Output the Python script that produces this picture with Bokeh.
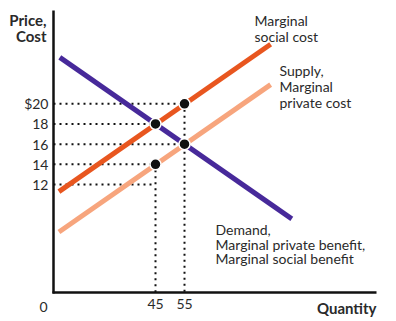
from bokeh.plotting import figure
from bokeh.models import Range1d, FixedTicker, Label
from bokeh.embed import file_html
from bokeh.resources import INLINE

# ---- data ----
quantity_ticks = [45, 55]
price_ticks = [12, 14, 16, 18, 20]
price_labels = {20: "$20", 18: "18", 16: "16", 14: "14", 12: "12"}

demand_q = [12, 92]
demand_p = [24.6, 8.6]
msc_q = [11.7, 84.7]
msc_p = [11.3, 25.9]
supply_q = [11.7, 84.7]
supply_p = [7.3, 21.9]

point_q = [45, 55, 55, 45]
point_p = [18, 20, 16, 14]

guide_h_q = [55, 45, 55, 45, 45]
guide_h_p = [20, 18, 16, 14, 12]
guide_v_q = [45, 55]
guide_v_p = [14, 20]

# ---- layout ----
W, H = 396, 321
AX_L, AX_R, AX_T, AX_B = 53, 376, 10, 292  # axis extents in px
XPX = 2.9    # px per quantity unit
YPX = 10.09  # px per price unit

def xd(px):
    return 45 + (px - 155) / XPX

def yd(py):
    return 20 - (py - 103.3) / YPX

FONT = "Lato"
TXT = "#2a2a2a"

p = figure(width=W, height=H, output_backend="svg", toolbar_location=None,
           x_range=Range1d(xd(0), xd(W)), y_range=Range1d(yd(H), yd(0)),
           min_border=0)
p.outline_line_color = None
p.grid.visible = False
p.background_fill_color = "white"
p.border_fill_color = "white"

x_axis_at = yd(AX_B)
y_axis_at = xd(AX_L)

for ax in (p.xaxis[0], p.yaxis[0]):
    ax.axis_line_width = 2.5
    ax.axis_line_color = "#111111"
    ax.major_tick_line_color = None
    ax.minor_tick_line_color = None
    ax.major_tick_out = 0
    ax.major_tick_in = 0
    ax.minor_tick_out = 0
    ax.minor_tick_in = 0
    ax.major_label_text_font = FONT
    ax.major_label_text_font_size = "14px"
    ax.major_label_text_color = TXT

p.xaxis.fixed_location = x_axis_at
p.xaxis.bounds = (xd(AX_L - 1.25), xd(AX_R))
p.xaxis.ticker = FixedTicker(ticks=quantity_ticks)
p.xaxis.major_label_standoff = 6

p.yaxis.fixed_location = y_axis_at
p.yaxis.bounds = (yd(AX_B + 1.25), yd(AX_T))
p.yaxis.ticker = FixedTicker(ticks=price_ticks)
p.yaxis.major_label_overrides = {k: v for k, v in price_labels.items()}
p.yaxis.major_label_standoff = 5

# dotted guides
p.segment(x0=[y_axis_at] * len(guide_h_q), y0=guide_h_p, x1=guide_h_q, y1=guide_h_p,
          line_color="#111111", line_width=2, line_dash="2 4")
p.segment(x0=guide_v_q, y0=guide_v_p, x1=guide_v_q, y1=[x_axis_at] * len(guide_v_q),
          line_color="#111111", line_width=2, line_dash="2 4")

# curves
p.line(supply_q, supply_p, line_color="#F7A57D", line_width=5)
p.line(msc_q, msc_p, line_color="#E8561F", line_width=5)
p.line(demand_q, demand_p, line_color="#47299A", line_width=5)

p.scatter(point_q, point_p, size=11, fill_color="#111111",
          line_color="white", line_width=1.5)

def add_text(txt, px, py, align="left", bold=False, size="14px"):
    p.add_layout(Label(x=xd(px), y=yd(py), text=txt, text_font=FONT,
                       text_font_size=size, text_color=TXT,
                       text_font_style="bold" if bold else "normal",
                       text_align=align, text_baseline="alphabetic"))

add_text("Price,", 46, 19.5, align="right", bold=True, size="15px")
add_text("Cost", 46, 35, align="right", bold=True, size="15px")
add_text("0", 43, 306.7, align="center")
add_text("Quantity", 376, 307.5, align="right", bold=True, size="15px")

add_text("Marginal", 254, 19.5)
add_text("social cost", 254, 35.5)
add_text("Supply,", 279, 70)
add_text("Marginal", 279, 86)
add_text("private cost", 279, 101.5)
add_text("Demand,", 215, 229)
add_text("Marginal private benefit,", 215, 243.5)
add_text("Marginal social benefit", 215, 258)

open("out.html", "w").write(file_html(p, INLINE))
